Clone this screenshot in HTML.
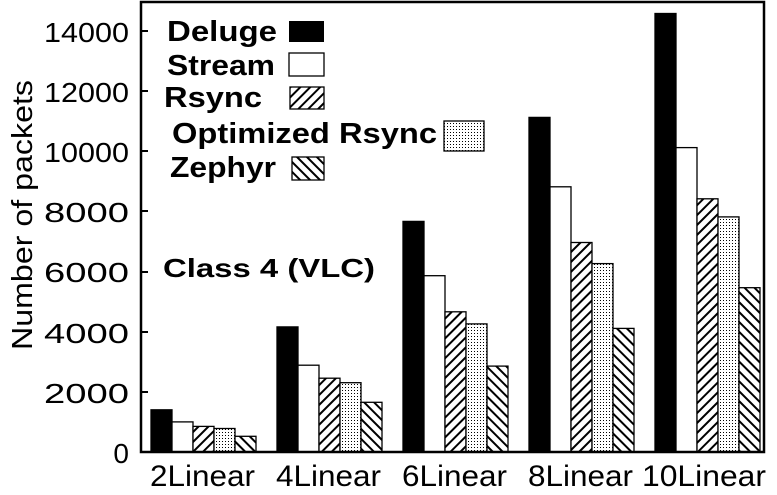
<!DOCTYPE html>
<html><head><meta charset="utf-8"><style>body{margin:0;background:#fff}svg{display:block}</style></head><body>
<svg width="777" height="495" viewBox="0 0 777 495" xmlns="http://www.w3.org/2000/svg" font-family="Liberation Sans, sans-serif">
<defs>
<pattern id="r" patternUnits="userSpaceOnUse" width="7" height="7" patternTransform="rotate(45)"><rect width="7" height="7" fill="#fff"/><rect x="0" width="2" height="7" fill="#000"/></pattern>
<pattern id="z" patternUnits="userSpaceOnUse" width="7" height="7" patternTransform="rotate(-45)"><rect width="7" height="7" fill="#fff"/><rect x="0" width="2" height="7" fill="#000"/></pattern>
<pattern id="d" patternUnits="userSpaceOnUse" width="3" height="3"><rect width="3" height="3" fill="#fff"/><rect width="1" height="1" fill="#000"/></pattern>
</defs>
<g stroke="#000" stroke-width="1.3">
<rect x="151" y="409.8" width="21" height="42.2" fill="#000"/>
<rect x="172" y="421.9" width="21" height="30.1" fill="#fff"/>
<rect x="193" y="426.4" width="21" height="25.6" fill="url(#r)"/>
<rect x="214" y="428.5" width="21" height="23.5" fill="url(#d)"/>
<rect x="235" y="436.3" width="21" height="15.7" fill="url(#z)"/>
<rect x="277" y="326.9" width="21" height="125.1" fill="#000"/>
<rect x="298" y="365.2" width="21" height="86.8" fill="#fff"/>
<rect x="319" y="378.2" width="21" height="73.8" fill="url(#r)"/>
<rect x="340" y="382.7" width="21" height="69.3" fill="url(#d)"/>
<rect x="361" y="402.3" width="21" height="49.7" fill="url(#z)"/>
<rect x="403" y="221.4" width="21" height="230.6" fill="#000"/>
<rect x="424" y="275.7" width="21" height="176.3" fill="#fff"/>
<rect x="445" y="311.8" width="21" height="140.2" fill="url(#r)"/>
<rect x="466" y="323.9" width="21" height="128.1" fill="url(#d)"/>
<rect x="487" y="366.1" width="21" height="85.9" fill="url(#z)"/>
<rect x="529" y="117.4" width="21" height="334.6" fill="#000"/>
<rect x="550" y="186.8" width="21" height="265.2" fill="#fff"/>
<rect x="571" y="242.5" width="21" height="209.5" fill="url(#r)"/>
<rect x="592" y="263.6" width="21" height="188.4" fill="url(#d)"/>
<rect x="613" y="328.4" width="21" height="123.6" fill="url(#z)"/>
<rect x="655" y="13.5" width="21" height="438.5" fill="#000"/>
<rect x="676" y="147.6" width="21" height="304.4" fill="#fff"/>
<rect x="697" y="198.8" width="21" height="253.2" fill="url(#r)"/>
<rect x="718" y="216.9" width="21" height="235.1" fill="url(#d)"/>
<rect x="739" y="287.7" width="21" height="164.3" fill="url(#z)"/>
</g>
<rect x="141" y="2" width="623" height="450" fill="none" stroke="#000" stroke-width="2.5"/>
<g stroke="#000" stroke-width="2">
<line x1="141" y1="392" x2="148" y2="392"/><line x1="141" y1="332" x2="148" y2="332"/><line x1="141" y1="272" x2="148" y2="272"/><line x1="141" y1="211" x2="148" y2="211"/><line x1="141" y1="151" x2="148" y2="151"/><line x1="141" y1="91" x2="148" y2="91"/><line x1="141" y1="31" x2="148" y2="31"/>
</g>
<g font-size="28" text-anchor="end">
<text x="129" y="463">0</text>
<text x="129" y="403" textLength="85" lengthAdjust="spacingAndGlyphs">2000</text>
<text x="129" y="343" textLength="85" lengthAdjust="spacingAndGlyphs">4000</text>
<text x="129" y="282" textLength="85" lengthAdjust="spacingAndGlyphs">6000</text>
<text x="129" y="222" textLength="85" lengthAdjust="spacingAndGlyphs">8000</text>
<text x="129" y="162" textLength="85" lengthAdjust="spacingAndGlyphs">10000</text>
<text x="129" y="102" textLength="85" lengthAdjust="spacingAndGlyphs">12000</text>
<text x="129" y="42" textLength="85" lengthAdjust="spacingAndGlyphs">14000</text>
</g>
<text transform="translate(32,215) rotate(-90)" font-size="29" text-anchor="middle" textLength="270" lengthAdjust="spacingAndGlyphs">Number of packets</text>
<g font-size="30">
<text x="150" y="486" textLength="105" lengthAdjust="spacingAndGlyphs">2Linear</text>
<text x="276" y="486" textLength="105" lengthAdjust="spacingAndGlyphs">4Linear</text>
<text x="402" y="486" textLength="105" lengthAdjust="spacingAndGlyphs">6Linear</text>
<text x="528" y="486" textLength="105" lengthAdjust="spacingAndGlyphs">8Linear</text>
<text x="642" y="486" textLength="124" lengthAdjust="spacingAndGlyphs">10Linear</text>
</g>
<g font-size="29" font-weight="bold">
<text x="167" y="41" textLength="110" lengthAdjust="spacingAndGlyphs">Deluge</text><rect x="289" y="21" width="35" height="21" fill="#000"/>
<text x="167" y="75" textLength="108" lengthAdjust="spacingAndGlyphs">Stream</text><rect x="289" y="53" width="35" height="23" fill="#fff" stroke="#000" stroke-width="1.3"/>
<text x="164" y="107" textLength="98" lengthAdjust="spacingAndGlyphs">Rsync</text><rect x="290" y="87" width="34" height="22" fill="url(#r)" stroke="#000" stroke-width="1.3"/>
<text x="172" y="143" textLength="265" lengthAdjust="spacingAndGlyphs">Optimized Rsync</text><rect x="444" y="121" width="40" height="30" fill="url(#d)" stroke="#000" stroke-width="1.3"/>
<text x="170" y="177" textLength="106" lengthAdjust="spacingAndGlyphs">Zephyr</text><rect x="292" y="157" width="32" height="23" fill="url(#z)" stroke="#000" stroke-width="1.3"/>
<text x="163" y="277" font-size="26" textLength="212" lengthAdjust="spacingAndGlyphs">Class 4 (VLC)</text>
</g>
</svg>
</body></html>
